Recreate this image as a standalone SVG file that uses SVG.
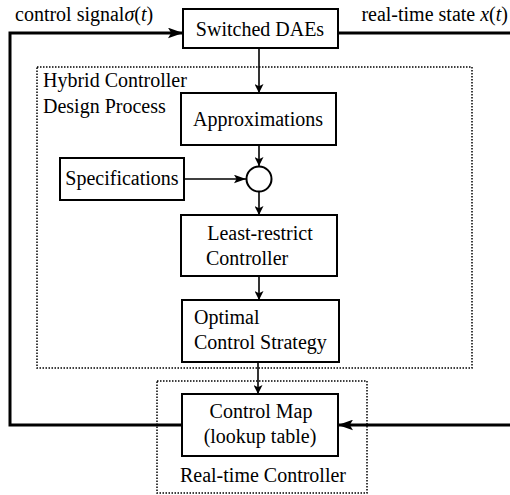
<svg xmlns="http://www.w3.org/2000/svg" width="510" height="495" viewBox="0 0 510 495" font-family="Liberation Serif, serif">
  <style>
    text { font-size: 20px; fill: #000; }
    .mid { text-anchor: middle; }
    .box { fill: #fff; stroke: #000; stroke-width: 2; }
    .frame { fill: none; stroke: #000; stroke-width: 1.5; stroke-dasharray: 1.5 1.5; }
    .loop { fill: none; stroke: #000; stroke-width: 3; }
    .flow { fill: none; stroke: #000; stroke-width: 1.6; }
    .math { font-style: italic; }
  </style>
  <defs>
    <marker id="bigHead" viewBox="0 0 14 10" refX="14" refY="5" markerWidth="15" markerHeight="11" markerUnits="userSpaceOnUse" orient="auto">
      <path d="M0,0 L14,5 L0,10 L3,5 Z" fill="#000"/>
    </marker>
    <marker id="midHead" viewBox="0 0 14 10" refX="14" refY="5" markerWidth="12" markerHeight="9" markerUnits="userSpaceOnUse" orient="auto">
      <path d="M0,0 L14,5 L0,10 L3,5 Z" fill="#000"/>
    </marker>
    <marker id="smallHead" viewBox="0 0 10 10" refX="10" refY="5" markerWidth="9" markerHeight="9" markerUnits="userSpaceOnUse" orient="auto">
      <path d="M0,0 L10,5 L0,10 L2.5,5 Z" fill="#000"/>
    </marker>
  </defs>

  <!-- grouping frames -->
  <g id="hybrid-design">
    <rect class="frame" x="37" y="67" width="435" height="301"/>
    <text x="43" y="87">Hybrid Controller</text>
    <text x="43" y="113">Design Process</text>
  </g>
  <g id="realtime-frame">
    <rect class="frame" x="157" y="381" width="210" height="112"/>
    <text class="mid" x="263" y="482">Real-time Controller</text>
  </g>

  <!-- connectors -->
  <g id="connectors">
    <path class="loop" d="M182,425 H10 V33 H183" marker-end="url(#bigHead)"/>
    <path class="loop" d="M338,33 H512"/>
    <path class="loop" d="M512,425 H338" marker-end="url(#bigHead)"/>
    <path class="flow" d="M259,48 V93" marker-end="url(#smallHead)"/>
    <path class="flow" d="M259,145 V166" marker-end="url(#smallHead)"/>
    <path class="flow" d="M184,179 H246" marker-end="url(#midHead)"/>
    <path class="flow" d="M259,191 V215" marker-end="url(#smallHead)"/>
    <path class="flow" d="M259,276 V300" marker-end="url(#smallHead)"/>
    <path class="flow" d="M258,362 V394" marker-end="url(#smallHead)"/>
  </g>

  <!-- edge labels -->
  <g id="labels">
    <text x="15" y="21">control signal<tspan class="math">σ</tspan>(<tspan class="math">t</tspan>)</text>
    <text x="508" y="21" text-anchor="end">real-time state <tspan class="math">x</tspan>(<tspan class="math">t</tspan>)</text>
  </g>

  <!-- nodes -->
  <g id="switched-daes">
    <rect class="box" x="183" y="9" width="155" height="39"/>
    <text class="mid" x="260" y="36">Switched DAEs</text>
  </g>
  <g id="approximations">
    <rect class="box" x="181" y="93" width="155" height="52"/>
    <text class="mid" x="258" y="126">Approximations</text>
  </g>
  <g id="specifications">
    <rect class="box" x="60" y="158" width="124" height="42"/>
    <text class="mid" x="122" y="185">Specifications</text>
  </g>
  <g id="junction">
    <circle cx="259" cy="179" r="12.5" fill="#fff" stroke="#000" stroke-width="2"/>
  </g>
  <g id="least-restrict">
    <rect class="box" x="181" y="215" width="156" height="61"/>
    <text class="mid" x="260" y="240">Least-restrict</text>
    <text x="206" y="265">Controller</text>
  </g>
  <g id="optimal-strategy">
    <rect class="box" x="182" y="300" width="157" height="62"/>
    <text x="194" y="324">Optimal</text>
    <text x="194" y="349">Control Strategy</text>
  </g>
  <g id="control-map">
    <rect class="box" x="182" y="394" width="156" height="62"/>
    <text class="mid" x="261" y="418">Control Map</text>
    <text class="mid" x="260" y="443">(lookup table)</text>
  </g>
</svg>
